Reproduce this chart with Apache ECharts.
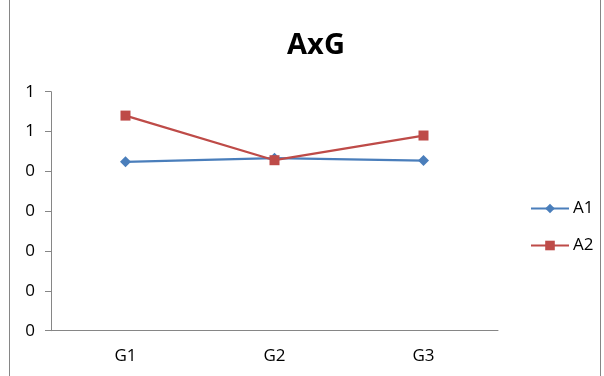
<!DOCTYPE html>
<html><head><meta charset="utf-8">
<script src="https://cdn.jsdelivr.net/npm/echarts@6/dist/echarts.min.js"></script>
<style>html,body{margin:0;padding:0;background:#fff}#c{width:604px;height:376px}</style>
</head><body><div id="c"></div>
<script>
const categories = ['G1', 'G2', 'G3'];
const seriesA1 = [0.424, 0.433, 0.427];
const seriesA2 = [0.540, 0.428, 0.490];
const yMin = 0, yMax = 0.6, yStep = 0.1;
const titleText = 'AxG';
const font = 'Open Sans';

const chart = echarts.init(document.getElementById('c'), null, {renderer: 'canvas'});
chart.setOption({
  animation: false,
  backgroundColor: '#fff',
  title: {
    text: titleText, left: 311, top: 26, textAlign: 'center',
    textStyle: {fontFamily: font, fontSize: 29, fontWeight: 'bold', color: '#000'}
  },
  graphic: [{
    type: 'rect', shape: {x: 9.5, y: -5, width: 591, height: 390},
    style: {fill: 'none', stroke: '#868686', lineWidth: 1}, silent: true
  }],
  legend: {
    orient: 'vertical', left: 525, top: 195, itemGap: 20,
    itemWidth: 38, itemHeight: 12,
    textStyle: {fontFamily: font, fontSize: 17, color: '#000', padding: [0,0,0,-1]},
    data: ['A1', 'A2']
  },
  grid: {left: 51, right: 106, top: 91.7, bottom: 45.3},
  xAxis: {
    type: 'category', data: categories, boundaryGap: true,
    axisLine: {lineStyle: {color: '#868686', width: 1}},
    axisTick: {show: false},
    axisLabel: {fontFamily: font, fontSize: 17, color: '#000', margin: 17}
  },
  yAxis: {
    type: 'value', min: yMin, max: yMax, interval: yStep,
    axisLine: {show: true, lineStyle: {color: '#868686', width: 1}},
    axisTick: {show: true, length: 6, lineStyle: {color: '#868686'}},
    splitLine: {show: false},
    axisLabel: {fontFamily: font, fontSize: 17, color: '#000', margin: 16,
      formatter: v => String(Math.round(v + 1e-9))}
  },
  series: [
    {name: 'A1', type: 'line', data: seriesA1, symbol: 'diamond', symbolSize: 11,
     lineStyle: {color: '#4A7EBB', width: 2.25}, itemStyle: {color: '#4A7EBB'}},
    {name: 'A2', type: 'line', data: seriesA2, symbol: 'rect', symbolSize: 10,
     lineStyle: {color: '#BE4B48', width: 2.25}, itemStyle: {color: '#BE4B48'}}
  ]
});
</script></body></html>
